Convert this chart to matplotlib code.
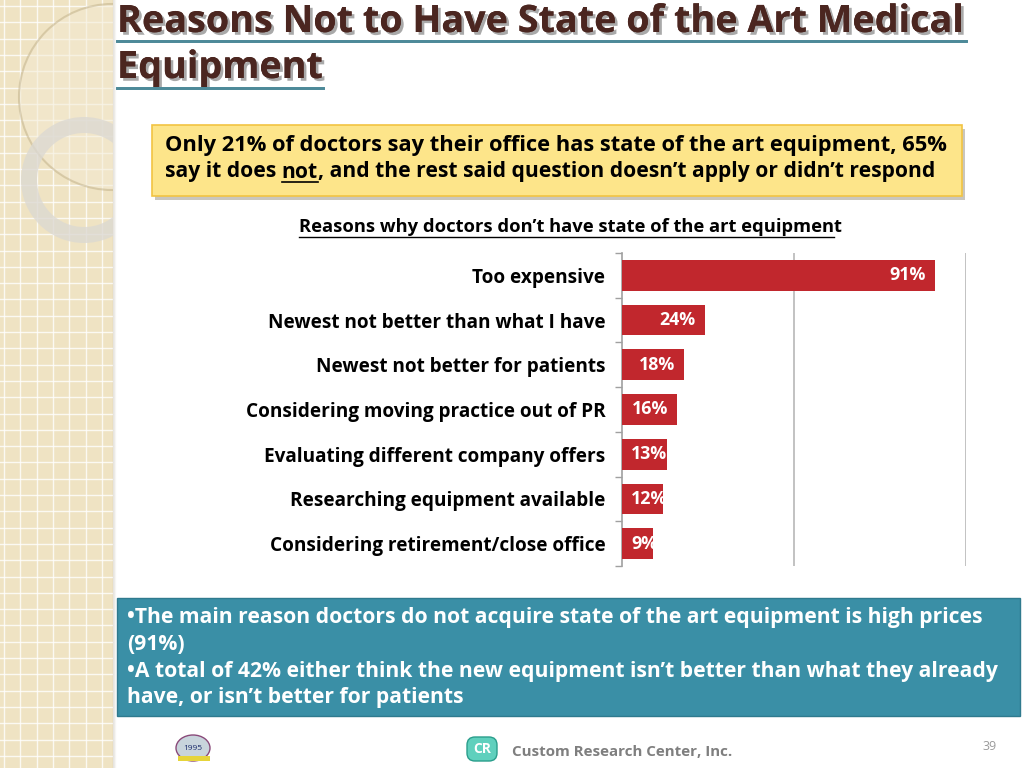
import matplotlib
matplotlib.use("Agg")
import matplotlib.pyplot as plt
import matplotlib.patches as mpatches
import matplotlib.patheffects as pe
import numpy as np

plt.rcParams['font.family'] = ['Open Sans', 'DejaVu Sans']

# data
categories = ["Too expensive",
              "Newest not better than what I have",
              "Newest not better for patients",
              "Considering moving practice out of PR",
              "Evaluating different company offers",
              "Researching equipment available",
              "Considering retirement/close office"]
values = [91, 24, 18, 16, 13, 12, 9]

title_lines = ["Reasons Not to Have State of the Art Medical", "Equipment"]
chart_title = "Reasons why doctors don\u2019t have state of the art equipment"
callout = ["Only 21% of doctors say their office has state of the art equipment, 65%",
           "say it does ", "not", ", and the rest said question doesn\u2019t apply or didn\u2019t respond"]
bullets = ["\u2022The main reason doctors do not acquire state of the art equipment is high prices",
           "(91%)",
           "\u2022A total of 42% either think the new equipment isn\u2019t better than what they already",
           "have, or isn\u2019t better for patients"]

BAR = "#c1272d"
TEAL = "#3a8fa6"

fig = plt.figure(figsize=(10.24, 7.68), dpi=100)
fig.patch.set_facecolor("white")
renderer = fig.canvas.get_renderer()


def fit(t, width_px):
    # scale font so the text spans the wanted pixel width
    w = t.get_window_extent(renderer).width
    t.set_fontsize(t.get_fontsize() * width_px / w)
    return t.get_fontsize()


# background layer in pixel coords
bg = fig.add_axes([0, 0, 1, 1])
bg.set_xlim(0, 1024)
bg.set_ylim(768, 0)
bg.axis("off")
inv = bg.transData.inverted()

# left beige strip with grid
strip = mpatches.Rectangle((0, 0), 113, 768, facecolor="#efe3c3", edgecolor="none", zorder=0)
bg.add_patch(strip)
for gx in np.arange(4, 113, 16.3):
    bg.plot([gx, gx], [0, 768], color="white", lw=1.0, alpha=0.8, zorder=1)
for gy in np.arange(6, 768, 16.3):
    bg.plot([0, 113], [gy, gy], color="white", lw=1.0, alpha=0.8, zorder=1)
for i, a in enumerate([0.18, 0.10, 0.05]):
    bg.plot([113 + i, 113 + i], [0, 768], color="#8a7d60", lw=1, alpha=a, zorder=1)

# decorative circles, clipped to strip
c1 = mpatches.Circle((112, 97), 93, facecolor="#f3ead2", edgecolor="#bfae85", lw=1.5, alpha=0.5, zorder=2)
bg.add_patch(c1)
c1.set_clip_path(strip)
ring = mpatches.Annulus((84, 180), 63, 16, facecolor="#dcd9d2", edgecolor="none", alpha=0.8, zorder=3)
bg.add_patch(ring)
ring.set_clip_path(strip)

# title
shadow = [pe.withSimplePatchShadow(offset=(2, -2), shadow_rgbFace="#555555", alpha=0.5), pe.Normal()]
tt = bg.text(117, 22, title_lines[0], fontsize=26, fontweight="bold", color="#4b2620",
             va="center", ha="left", path_effects=shadow, zorder=5)
tsize = fit(tt, 848)
bg.text(117, 68, title_lines[1], fontsize=tsize, fontweight="bold", color="#4b2620",
        va="center", ha="left", path_effects=shadow, zorder=5)
ul_fx = [pe.withSimplePatchShadow(offset=(1, -1), shadow_rgbFace="#555555", alpha=0.4), pe.Normal()]
bg.plot([117, 966], [41, 41], color="#4d8a99", lw=2, path_effects=ul_fx, zorder=5)
bg.plot([117, 323], [88, 88], color="#4d8a99", lw=2, path_effects=ul_fx, zorder=5)

# yellow callout box
ybox = mpatches.Rectangle((152, 125), 810, 71, facecolor="#fde58a", edgecolor="#f2c443", lw=1.2,
                          path_effects=[pe.withSimplePatchShadow(offset=(2, -3), alpha=0.3)], zorder=4)
bg.add_patch(ybox)
y1 = bg.text(165, 145, callout[0], fontsize=14.5, fontweight="bold", color="black",
             va="center", ha="left", zorder=5)
fit(y1, 782)
probe = bg.text(0, 0, "".join(callout[1:]), fontsize=14.5, fontweight="bold")
ysize = fit(probe, 769)
probe.remove()
x = 165
for k, part in enumerate(callout[1:]):
    t = bg.text(x, 172, part, fontsize=ysize, fontweight="bold", color="black",
                va="center", ha="left", zorder=5)
    bb = t.get_window_extent(renderer)
    x_new = inv.transform((bb.x1, bb.y0))[0]
    if k == 1:
        bg.plot([x, x_new], [182, 182], color="black", lw=1.2, zorder=5)
    x = x_new

# chart subtitle, underlined
ct = bg.text(299, 227, chart_title, fontsize=11.5, fontweight="bold", color="black",
             va="center", ha="left", zorder=5)
fit(ct, 546)
bg.plot([299, 834], [237, 237], color="black", lw=1, zorder=5)

# teal summary box
tbox = mpatches.Rectangle((117, 598), 903, 118, facecolor=TEAL, edgecolor="#2f7a8e", lw=1, zorder=4)
bg.add_patch(tbox)
p0 = bg.text(0, 0, bullets[0], fontsize=14.5, fontweight="bold")
s0 = fit(p0, 866)
p0.remove()
p2 = bg.text(0, 0, bullets[2], fontsize=14.5, fontweight="bold")
s2 = fit(p2, 874)
p2.remove()
bsize = min(s0, s2)
for i, line in enumerate(bullets):
    bg.text(127, 617 + i * 27, line, fontsize=bsize, fontweight="bold", color="white",
            va="center", ha="left", zorder=5)

# footer
ft = bg.text(512, 752, "Custom Research Center, Inc.", fontsize=11, fontweight="bold", color="#7f7f7f",
             va="center", ha="left", zorder=5)
fit(ft, 221)
bg.text(990, 746, "39", fontsize=9, color="#9a9a9a", va="center", ha="center", zorder=5)
# CR logo (simplified)
bg.add_patch(mpatches.FancyBboxPatch((467, 737), 30, 24, boxstyle="round,pad=0,rounding_size=8",
                                     facecolor="#5fd0bd", edgecolor="#2a9e8c", lw=1, zorder=5))
bg.text(482, 749, "CR", fontsize=10, fontweight="bold", color="white", va="center", ha="center", zorder=6)
# seal logo (simplified)
bg.add_patch(mpatches.Ellipse((193, 748), 34, 26, facecolor="#c8d4dc", edgecolor="#8a4a7a", lw=1, zorder=5))
bg.add_patch(mpatches.Rectangle((178, 756), 32, 5, facecolor="#e6d43a", edgecolor="none", zorder=5))
bg.text(193, 748, "1995", fontsize=6, color="#1a2a6a", va="center", ha="center", zorder=6)

# bar chart
ax = fig.add_axes([622 / 1024, 1 - 566 / 768, 344 / 1024, 313 / 768])
ax.set_facecolor("none")
y = np.arange(len(categories))
ax.barh(y, values, height=0.69, color=BAR, zorder=3)
ax.set_xlim(0, 100)
ax.set_ylim(len(categories) - 0.5, -0.5)
ax.set_xticks([50, 100])
ax.xaxis.grid(True, color="#b8b8b8", lw=1.2, zorder=0)
ax.tick_params(axis="x", length=0, labelbottom=False)
ax.set_yticks(y)
ax.set_yticklabels(categories, fontweight="bold")
probe = bg.text(0, 0, categories[3], fontsize=12, fontweight="bold")
csize = fit(probe, 359)
probe.remove()
for lab in ax.get_yticklabels():
    lab.set_fontsize(csize)
ax.tick_params(axis="y", which="major", length=0, pad=12)
ax.set_yticks(np.arange(-0.5, len(categories), 1), minor=True)
ax.tick_params(axis="y", which="minor", length=5, color="#a0a0a0", width=1)
for s in ["top", "right", "bottom"]:
    ax.spines[s].set_visible(False)
ax.spines["left"].set_color("#a0a0a0")
ax.spines["left"].set_linewidth(1.2)

# value labels inside bars
px_per_unit = 344 / 100
probe = bg.text(0, 0, "91%", fontsize=12, fontweight="bold")
vsize = fit(probe, 36)
probe.remove()
for yi, v in zip(y, values):
    lab = ax.text(0, yi, f"{v}%", fontsize=vsize, fontweight="bold", color="white",
                  va="center", ha="left", zorder=4)
    w = lab.get_window_extent(renderer).width
    bar_px = v * px_per_unit
    if bar_px - 9 - w >= 9:
        lab.set_ha("right")
        lab.set_position((v - 9 / px_per_unit, yi))
    else:
        lab.set_position((9 / px_per_unit, yi))

fig.savefig("out.png", dpi=100, facecolor="white")
